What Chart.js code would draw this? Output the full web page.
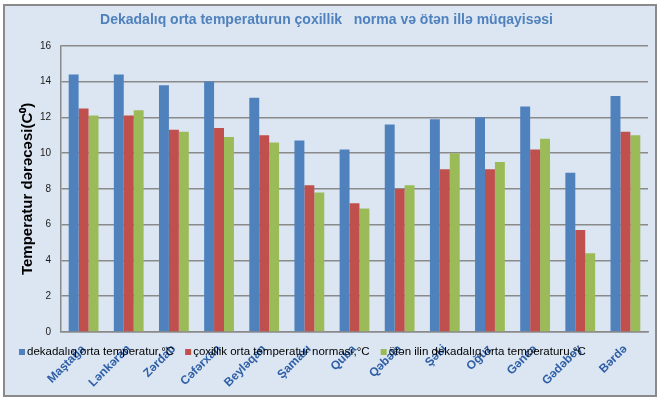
<!DOCTYPE html>
<html>
<head>
<meta charset="utf-8">
<script src="https://cdn.jsdelivr.net/npm/chart.js@4.4.1/dist/chart.umd.min.js"></script>
<style>
    html, body { margin: 0; padding: 0; background: #ffffff; }
    #wrap {
        position: absolute; left: 3px; top: 4px;
        width: 650px; height: 389px;
        background: #dce6f2;
        border: 2px solid #8a8a8a;
    }
    canvas { display: block; }
</style>
</head>
<body>
<div id="wrap"><canvas id="tempChart" width="650" height="389"></canvas></div>
<script>
// data
const stations = ['Maştağa', 'Lənkəran', 'Zərdab', 'Cəfərxan', 'Beyləqan', 'Şamaxı', 'Quba',
    'Qəbələ', 'Şəki', 'Oğuz', 'Gəncə', 'Gədəbəy', 'Bərdə'];
const decadeTemp = [14.4, 14.4, 13.8, 14.0, 13.1, 10.7, 10.2, 11.6, 11.9, 12.0, 12.6, 8.9, 13.2];
const normTemp = [12.5, 12.1, 11.3, 11.4, 11.0, 8.2, 7.2, 8.0, 9.1, 9.1, 10.2, 5.7, 11.2];
const lastYearTemp = [12.1, 12.4, 11.2, 10.9, 10.6, 7.8, 6.9, 8.2, 10.0, 9.5, 10.8, 4.4, 11.0];
const seriesNames = ['dekadalıq orta temperatur,°C', 'çoxillik orta temperatur norması,°C',
    'ötən ilin dekadalıq orta temperaturu,°C'];
const yTicks = [0, 2, 4, 6, 8, 10, 12, 14, 16];

const colors = ['#4f81bd', '#c0504d', '#9bbb59'];
const FONT = '"Liberation Sans", Arial, sans-serif';

// legend sits over the rotated labels, like the original, so draw it by hand
const overlayLegend = {
    id: 'overlayLegend',
    afterDraw(chart) {
        const ctx = chart.ctx;
        ctx.save();
        ctx.font = '11.5px ' + FONT;
        ctx.textBaseline = 'middle';
        let x = 14;
        const y = 346;
        chart.data.datasets.forEach(ds => {
            ctx.fillStyle = ds.backgroundColor;
            ctx.fillRect(x, y - 3, 6, 6);
            x += 8;
            ctx.fillStyle = '#000000';
            ctx.fillText(ds.label, x, y);
            x += ctx.measureText(ds.label).width + 11;
        });
        ctx.restore();
    }
};

new Chart(document.getElementById('tempChart').getContext('2d'), {
    type: 'bar',
    data: {
        labels: stations,
        datasets: [decadeTemp, normTemp, lastYearTemp].map((vals, i) => ({
            label: seriesNames[i],
            data: vals,
            backgroundColor: colors[i],
            borderWidth: 0,
            categoryPercentage: 0.66,
            barPercentage: 1.0
        }))
    },
    options: {
        responsive: false,
        animation: false,
        layout: { padding: { left: 0, right: 7, top: 0, bottom: 0 } },
        plugins: {
            legend: { display: false },
            tooltip: { enabled: false },
            title: {
                display: true,
                text: 'Dekadalıq orta temperaturun çoxillik   norma və ötən illə müqayisəsi',
                color: '#4f81bd',
                font: { family: FONT, size: 14, weight: 'bold' },
                padding: { top: 6, bottom: 17 }
            }
        },
        scales: {
            x: {
                grid: { display: false, drawTicks: false },
                border: { color: '#8a8a8a', width: 1.5 },
                ticks: {
                    color: '#2e5fa6',
                    font: { family: FONT, size: 12, weight: 'bold' },
                    minRotation: 45,
                    maxRotation: 45,
                    padding: 10
                },
                afterFit(scale) { scale.height = 63; }
            },
            y: {
                min: 0,
                max: 16,
                afterBuildTicks(scale) { scale.ticks = yTicks.map(v => ({ value: v })); },
                grid: { color: '#8a8a8a', lineWidth: 1.5, drawTicks: false },
                border: { color: '#8a8a8a', width: 1.5 },
                ticks: {
                    color: '#1a1a1a',
                    font: { family: FONT, size: 10 },
                    padding: 10
                },
                title: {
                    display: true,
                    text: 'Temperatur dərəcəsi(C⁰)',
                    color: '#000000',
                    font: { family: FONT, size: 15, weight: 'bold' },
                    padding: { top: 14, bottom: 0 }
                },
                afterFit(scale) { scale.width = 56; }
            }
        }
    },
    plugins: [overlayLegend]
});
</script>
</body>
</html>
